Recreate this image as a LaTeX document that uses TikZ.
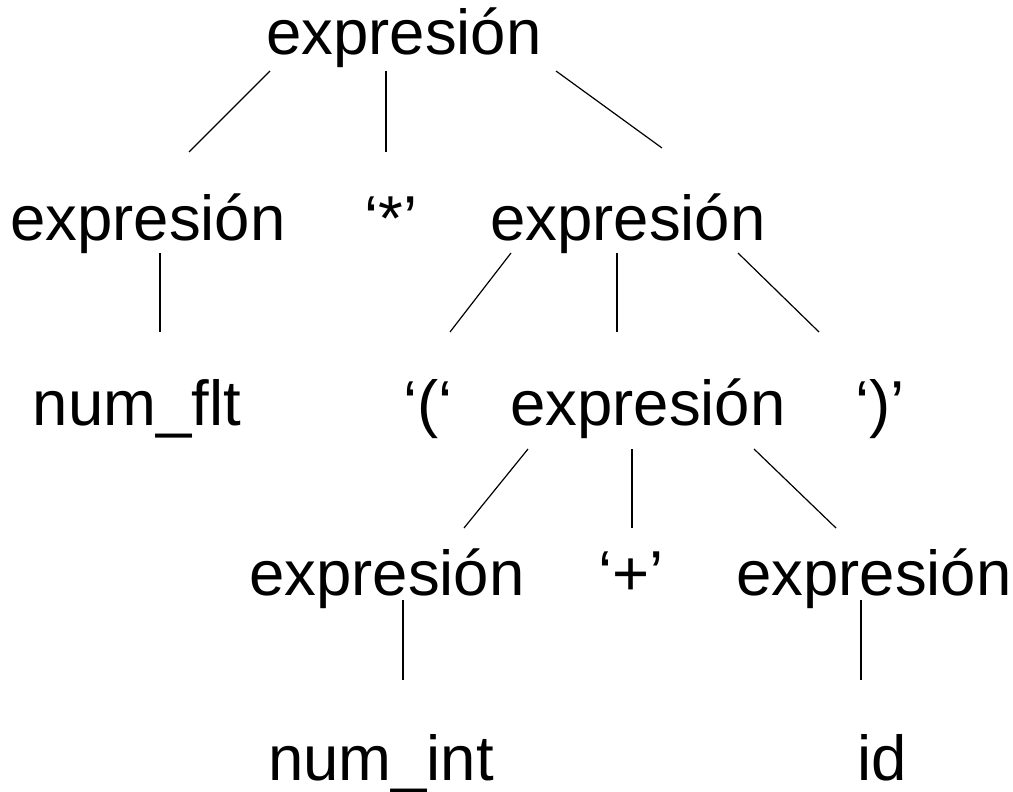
\documentclass[tikz,border=0pt]{standalone}
\usepackage{fontspec}
\setmainfont{Liberation Sans}
\begin{document}
\begin{tikzpicture}[x=1pt,y=-1pt,
  sym/.style={anchor=base,inner sep=0pt,font=\fontsize{63.5}{76}\selectfont},
  edge/.style={line width=1.2pt}]
\useasboundingbox (0,0) rectangle (1013,792);
% symbols of the parse tree
\node[sym] (r)   at (404,55)  {expresión};
\node[sym] (l)   at (148,240) {expresión};
\node[sym] (mul) at (391,240) {‘*’};
\node[sym] (rr)  at (628,240) {expresión};
\node[sym] (nf)  at (137,425) {num\_flt};
\node[sym] (lp)  at (428,425) {‘(‘};
\node[sym] (m)   at (648,425) {expresión};
\node[sym] (rp)  at (880,425) {‘)’};
\node[sym] (ml)  at (387,595) {expresión};
\node[sym] (add) at (631,595) {‘+’};
\node[sym] (mr)  at (874,595) {expresión};
\node[sym] (ni)  at (381,780) {num\_int};
\node[sym] (id)  at (882,780) {id};
% line ends
\coordinate (r1) at (270,71);  \coordinate (l1)  at (189,152);
\coordinate (r2) at (386,71);  \coordinate (mu1) at (386,152);
\coordinate (r3) at (556,71);  \coordinate (rr1) at (662,148);
\coordinate (l2) at (160,253); \coordinate (nf1) at (160,332);
\coordinate (rr2) at (511,253); \coordinate (lp1) at (450,332);
\coordinate (rr3) at (617,253); \coordinate (m1)  at (617,332);
\coordinate (rr4) at (738,253); \coordinate (rp1) at (819,332);
\coordinate (m2) at (528,449);  \coordinate (ml1) at (464,528);
\coordinate (m3) at (632,449);  \coordinate (ad1) at (632,528);
\coordinate (m4) at (754,449);  \coordinate (mr1) at (836,528);
\coordinate (ml2) at (403,600); \coordinate (ni1) at (403,680);
\coordinate (mr2) at (861,600); \coordinate (id1) at (861,680);
% connectors
\draw[edge] (r1) -- (l1);
\draw[edge] (r2) -- (mu1);
\draw[edge] (r3) -- (rr1);
\draw[edge] (l2) -- (nf1);
\draw[edge] (rr2) -- (lp1);
\draw[edge] (rr3) -- (m1);
\draw[edge] (rr4) -- (rp1);
\draw[edge] (m2) -- (ml1);
\draw[edge] (m3) -- (ad1);
\draw[edge] (m4) -- (mr1);
\draw[edge] (ml2) -- (ni1);
\draw[edge] (mr2) -- (id1);
\end{tikzpicture}
\end{document}
